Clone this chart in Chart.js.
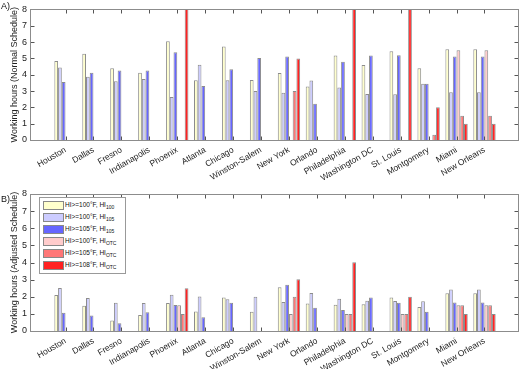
<!DOCTYPE html>
<html>
<head>
<meta charset="utf-8">
<script src="https://cdn.jsdelivr.net/npm/chart.js@4.4.0/dist/chart.umd.min.js"></script>
<style>
  body { margin: 0; background: #fff; font-family: 'Liberation Sans', Arial, sans-serif; }
  #wrap { position: relative; width: 520px; height: 369px; }
  canvas { position: absolute; left: 0; }
  .panel { position: absolute; left: 1px; font-size: 9px; color: #111; }
  #legend { position: absolute; left: 39px; top: 197px; width: 85px; height: 75px;
            border: 1px solid #999; background: #fff; font-size: 6.5px; color: #111; }
  .row { position: absolute; left: 3px; height: 8px; white-space: nowrap; }
  .sw { position: absolute; left: 0; top: 0; width: 19px; height: 7px; border: 1px solid #888; }
  .lbl { position: absolute; left: 22px; top: 0px; line-height: 8px; }
  .lbl sub { font-size: 5px; vertical-align: -2px; line-height: 0; }
</style>
</head>
<body>
<div id="wrap">
  <canvas id="chartA" width="520" height="180" style="top:0"></canvas>
  <canvas id="chartB" width="520" height="189" style="top:180px"></canvas>
  <div class="panel" style="top:1px">A)</div>
  <div class="panel" style="top:194px">B)</div>
  <div id="legend"></div>
</div>
<script>
"use strict"

const cities = ["Houston", "Dallas", "Fresno", "Indianapolis", "Phoenix", "Atlanta", "Chicago", "Winston-Salem",
  "New York", "Orlando", "Philadelphia", "Washington DC", "St. Louis", "Montgomery", "Miami", "New Orleans"];

const seriesNames = [
  ["HI>=100°F, HI", "100"],
  ["HI>=100°F, HI", "105"],
  ["HI>=105°F, HI", "105"],
  ["HI>=100°F, HI", "OTC"],
  ["HI>=105°F, HI", "OTC"],
  ["HI>=108°F, HI", "OTC"]
];
const colors = ["#ffffcc", "#ccccff", "#6666ff", "#ffcccc", "#ff7777", "#ff2222"];

// A) normal schedule (the three red bars above 8 are cut off in the figure)
const normal100_100 = [4.84, 5.29, 4.40, 4.12, 6.05, 3.66, 5.72, 3.68, 4.10, 3.27, 5.18, 4.59, 5.43, 4.39, 5.56, 5.56];
const normal100_105 = [4.44, 3.87, 3.60, 3.74, 2.63, 4.61, 3.66, 3.00, 2.90, 3.64, 3.21, 2.82, 2.80, 3.44, 2.92, 2.92];
const normal105_105 = [3.56, 4.12, 4.26, 4.26, 5.37, 3.31, 4.34, 5.02, 5.11, 2.22, 4.79, 5.18, 5.19, 3.44, 5.11, 5.11];
const normal100_otc = [0, 0, 0, 0, 0, 0, 0, 0, 0, 0, 0, 0, 0, 0, 5.50, 5.50];
const normal105_otc = [0, 0, 0, 0, 0, 0, 0, 0, 3.00, 0, 0, 0, 0, 0.32, 1.49, 1.49];
const normal108_otc = [0, 0, 0, 0, 9, 0, 0, 0, 5.00, 0, 9, 0, 9, 2.00, 0.99, 0.99];

// B) adjusted schedule
const adj100_100 = [2.10, 1.48, 0.62, 0.93, 1.63, 1.14, 1.96, 1.13, 2.55, 1.61, 1.54, 1.56, 1.96, 1.40, 2.20, 2.20];
const adj100_105 = [2.51, 1.93, 1.65, 1.63, 2.12, 2.02, 1.85, 2.00, 1.69, 2.22, 1.88, 1.77, 1.75, 1.73, 2.43, 2.43];
const adj105_105 = [1.07, 0.91, 0.45, 1.09, 1.52, 0.81, 1.65, 0, 2.70, 1.36, 1.22, 1.96, 1.65, 1.13, 1.67, 1.67];
const adj100_otc = [0, 0, 0, 0, 1.51, 0, 0, 0, 0.99, 0, 0.99, 0, 0.99, 0, 1.50, 1.50];
const adj105_otc = [0, 0, 0, 0, 1.00, 0, 0, 0, 2.00, 0, 0.99, 0, 0.99, 0, 1.50, 1.50];
const adj108_otc = [0, 0, 0, 0, 2.50, 0, 0, 0, 3.02, 0, 4.01, 0, 2.00, 0, 0.99, 0.99];

Chart.defaults.font.family = "'Liberation Sans', Arial, sans-serif";
Chart.defaults.color = '#222';

// MATLAB-style box with inward ticks on all four sides
const boxTicks = {
  id: 'boxTicks',
  afterDatasetsDraw(chart) {
    const {ctx, chartArea: a, scales: {x, y}} = chart;
    const l = Math.floor(a.left) - 0.5, r = Math.round(a.right) - 0.5;
    const t = Math.round(a.top) + 0.5, b = Math.round(a.bottom) + 0.5;
    ctx.save();
    ctx.lineWidth = 1;
    ctx.strokeStyle = '#555';
    ctx.beginPath();
    x.ticks.forEach(tk => {
      const px = Math.round(x.getPixelForValue(tk.value)) + 0.5;
      ctx.moveTo(px, b); ctx.lineTo(px, b - 4);
      ctx.moveTo(px, t); ctx.lineTo(px, t + 4);
    });
    y.ticks.forEach(tk => {
      const py = Math.round(y.getPixelForValue(tk.value)) + 0.5;
      ctx.moveTo(l, py); ctx.lineTo(l + 4, py);
      ctx.moveTo(r, py); ctx.lineTo(r - 4, py);
    });
    ctx.stroke();
    ctx.strokeStyle = '#8c8c8c';
    ctx.strokeRect(l, t, r - l, b - t);
    ctx.restore();
  }
};

function makeChart(id, title, series, padTop, xHeight) {
  const datasets = series.map((vals, k) => ({
    label: seriesNames[k].join(''),
    data: vals.map((v, i) => ({x: i, y: v})),
    backgroundColor: colors[k],
    borderColor: 'rgba(0,0,0,0.45)',
    borderWidth: 1,
    categoryPercentage: 0.8,
    barPercentage: 1.0
  }));

  return new Chart(document.getElementById(id), {
    type: 'bar',
    data: {datasets: datasets},
    options: {
      responsive: false,
      animation: false,
      layout: {padding: {top: padTop, right: 1, left: 0, bottom: 0}},
      plugins: {legend: {display: false}, tooltip: {enabled: false}},
      scales: {
        x: {
          type: 'linear',
          min: -0.69,
          max: 15.69,
          afterBuildTicks: s => { s.ticks = cities.map((c, i) => ({value: i})); },
          afterFit: s => { s.height = xHeight; },
          grid: {display: false, drawTicks: false},
          border: {display: false},
          ticks: {
            autoSkip: false,
            minRotation: 30,
            maxRotation: 30,
            padding: 5,
            font: {size: 8.5},
            callback: v => cities[v]
          }
        },
        y: {
          min: 0,
          max: 8,
          afterFit: s => { s.width = 31; },
          grid: {display: false, drawTicks: false},
          border: {display: false},
          ticks: {stepSize: 1, padding: 4, font: {size: 9}},
          title: {display: true, text: title, font: {size: 9}, padding: {top: 9, bottom: 0}}
        }
      }
    },
    plugins: [boxTicks]
  });
}

makeChart('chartA', 'Working hours (Normal Schedule)',
  [normal100_100, normal100_105, normal105_105, normal100_otc, normal105_otc, normal108_otc], 3, 40);
makeChart('chartB', 'Working hours (Adjusted Schedule)',
  [adj100_100, adj100_105, adj105_105, adj100_otc, adj105_otc, adj108_otc], 14, 38);

// legend with subscripts, panel B only
const legend = document.getElementById('legend');
seriesNames.forEach((n, k) => {
  const row = document.createElement('div');
  row.className = 'row';
  row.style.top = (3 + k * 12) + 'px';
  row.innerHTML = `<div class="sw" style="background:${colors[k]}"></div>
    <div class="lbl">${n[0].replace('>', '&gt;')}<sub>${n[1]}</sub></div>`;
  legend.appendChild(row);
});
</script>
</body>
</html>
